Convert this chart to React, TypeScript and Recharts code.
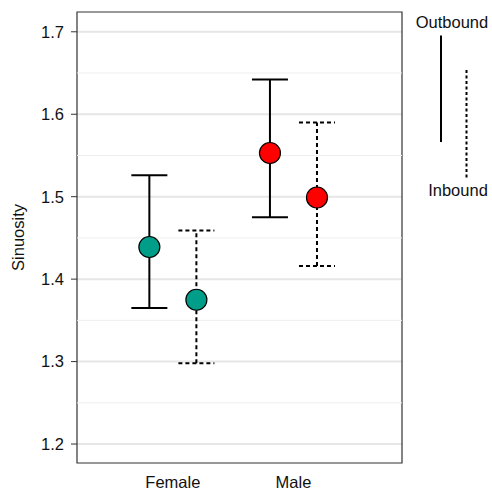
import React from 'react'
import {
  ComposedChart,
  Scatter,
  ErrorBar,
  XAxis,
  YAxis,
  CartesianGrid,
  ReferenceLine,
  ReferenceArea,
  Cell,
} from 'recharts'

// categories and summary values (mean with lower / upper interval)
const categories = ['Female', 'Male']
const outboundMean = [1.439, 1.553]
const outboundLow = [1.365, 1.475]
const outboundHigh = [1.526, 1.642]
const inboundMean = [1.375, 1.499]
const inboundLow = [1.298, 1.416]
const inboundHigh = [1.459, 1.59]
const sexColors = ['#009E88', '#FF0000']

const yTicks = [1.2, 1.3, 1.4, 1.5, 1.6, 1.7]
const yMinorTicks = [1.25, 1.35, 1.45, 1.55, 1.65]
const xTicks = [1, 2]

const xDomain = [0.205, 2.9]
const yDomain = [1.177, 1.724]
const dodge = 0.195
const FONT = '"Liberation Sans", Arial, Helvetica, sans-serif'

const build = (mean: number[], low: number[], high: number[], shift: number) =>
  mean.map((m, i) => ({
    x: i + 1 + shift,
    y: m,
    err: [m - low[i], high[i] - m],
  }))

const outboundData = build(outboundMean, outboundLow, outboundHigh, -dodge)
const inboundData = build(inboundMean, inboundLow, inboundHigh, dodge)

const Dot = (props: any) => {
  const { cx, cy, fill } = props
  if (cx == null || cy == null) return null
  return <circle cx={cx} cy={cy} r={10.5} fill={fill} stroke="#000" strokeWidth={1.2} />
}

function Key() {
  return (
    <svg
      width={87}
      height={200}
      style={{ position: 'absolute', left: 405, top: 0 }}
      fontFamily={FONT}
      fontSize={16.5}
    >
      <text x={47} y={22} textAnchor="middle" dominantBaseline="central" fill="#111">
        Outbound
      </text>
      <line x1={36} x2={36} y1={35.5} y2={142} stroke="#000" strokeWidth={2} />
      <line x1={61.5} x2={61.5} y1={70} y2={178.5} stroke="#000" strokeWidth={2} strokeDasharray="3 2.5" />
      <text x={53} y={190} textAnchor="middle" dominantBaseline="central" fill="#111">
        Inbound
      </text>
    </svg>
  )
}

export default function App() {
  return (
    <div style={{ position: 'absolute', left: 0, top: 0, width: 492, height: 490, background: '#fff' }}>
      <ComposedChart
        width={492}
        height={490}
        margin={{ top: 12, right: 90, bottom: 0, left: 0 }}
        style={{ fontFamily: FONT }}
      >
        <CartesianGrid vertical={false} horizontalValues={yTicks} stroke="#E6E6E6" strokeWidth={2} />
        {yMinorTicks.map((t) => (
          <ReferenceLine key={t} y={t} stroke="#EEEEEE" strokeWidth={1} />
        ))}
        <XAxis
          type="number"
          dataKey="x"
          domain={xDomain}
          ticks={xTicks}
          tickFormatter={(v: number) => categories[v - 1] ?? ''}
          axisLine={false}
          tickLine={false}
          tickSize={6}
          tickMargin={7.5}
          height={27}
          tick={{ fill: '#111', fontSize: 16.5 }}
          allowDataOverflow
        />
        <YAxis
          type="number"
          dataKey="y"
          domain={yDomain}
          ticks={yTicks}
          tickFormatter={(v: number) => v.toFixed(1)}
          width={77}
          axisLine={false}
          tickLine={{ stroke: '#333' }}
          tickSize={6}
          tickMargin={7}
          tick={{ fill: '#111', fontSize: 16.5 }}
          allowDataOverflow
          label={{
            value: 'Sinuosity',
            angle: -90,
            position: 'insideLeft',
            offset: 18,
            style: { textAnchor: 'middle', fill: '#111', fontSize: 16.5 },
          }}
        />
        <ReferenceArea
          x1={xDomain[0]}
          x2={xDomain[1]}
          y1={yDomain[0]}
          y2={yDomain[1]}
          fill="none"
          fillOpacity={0}
          stroke="#333"
          strokeWidth={1.2}
          ifOverflow="visible"
        />
        <Scatter data={outboundData} shape={Dot} isAnimationActive={false}>
          {outboundData.map((_, i) => (
            <Cell key={i} fill={sexColors[i]} />
          ))}
          <ErrorBar dataKey="err" direction="y" width={18} stroke="#000" strokeWidth={2} />
        </Scatter>
        <Scatter data={inboundData} shape={Dot} isAnimationActive={false}>
          {inboundData.map((_, i) => (
            <Cell key={i} fill={sexColors[i]} />
          ))}
          <ErrorBar
            dataKey="err"
            direction="y"
            width={18}
            stroke="#000"
            strokeWidth={2}
            strokeDasharray="4 3"
          />
        </Scatter>
      </ComposedChart>
      <Key />
    </div>
  )
}
